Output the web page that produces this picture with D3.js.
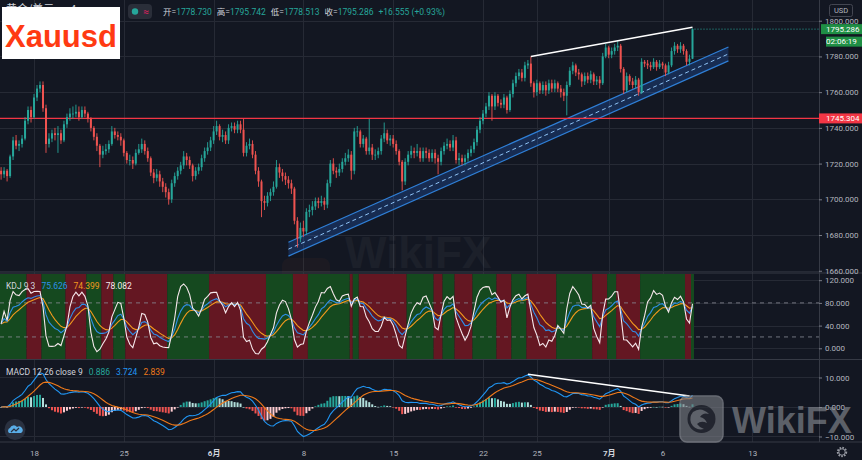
<!DOCTYPE html>
<html>
<head>
<meta charset="utf-8">
<script src="https://cdn.jsdelivr.net/npm/d3@7"></script>
<style>
  html, body { margin: 0; padding: 0; background: #131722; overflow: hidden; }
  svg { display: block; font-family: Roboto, "Noto Sans", "Noto Sans CJK SC", sans-serif; }
</style>
</head>
<body>
<svg id="chart"></svg>
<script>
// XAUUSD, 4h bars, 14 May - 7 Jul 2020 (open of each bar = previous close)
const firstOpen = 1716;
const closes = [
  1714, 1716, 1713, 1724, 1733,
  1730, 1731, 1734, 1744, 1750, 1746,
  1757, 1762, 1764, 1751, 1731, 1734,
  1737, 1736, 1737, 1733, 1742, 1746,
  1748, 1748, 1749, 1746, 1750, 1748,
  1745, 1740, 1735, 1730, 1725, 1727,
  1728, 1731, 1738, 1736, 1735, 1733,
  1726, 1722, 1722, 1720, 1726, 1728,
  1731, 1727, 1723, 1715, 1712, 1714,
  1710, 1707, 1704, 1700, 1709, 1713,
  1716, 1719, 1724, 1722, 1719, 1713,
  1716, 1718, 1723, 1727, 1729, 1733,
  1738, 1741, 1735, 1736, 1733, 1740,
  1741, 1739, 1742, 1739, 1726, 1730,
  1731, 1725, 1716, 1710, 1699, 1698,
  1702, 1704, 1707, 1718, 1715, 1713,
  1711, 1709, 1706, 1688, 1678, 1684,
  1682, 1693, 1694, 1696, 1699, 1698,
  1699, 1697, 1709, 1720, 1716, 1715,
  1717, 1721, 1723, 1725, 1716, 1738,
  1738, 1731, 1734, 1727, 1729, 1725,
  1725, 1727, 1734, 1737, 1733, 1734,
  1731, 1727, 1721, 1710, 1721, 1725,
  1727, 1726, 1727, 1723, 1727, 1726,
  1723, 1726, 1723, 1721, 1727, 1730,
  1731, 1729, 1733, 1722, 1723, 1721,
  1723, 1726, 1728, 1732, 1739, 1744,
  1748, 1752, 1758, 1752, 1758, 1754,
  1753, 1757, 1750, 1759, 1765, 1769,
  1771, 1768, 1775, 1776, 1765, 1760,
  1765, 1761, 1764, 1761, 1765, 1762,
  1765, 1762, 1760, 1758, 1764, 1772,
  1775, 1771, 1770, 1766, 1769, 1767,
  1770, 1766, 1767, 1765, 1780, 1785,
  1781, 1783, 1785, 1786, 1773, 1761,
  1769, 1766, 1764, 1767, 1760, 1777,
  1776, 1775, 1774, 1777, 1774, 1776,
  1775, 1771, 1775, 1783, 1786, 1784,
  1786, 1783, 1777, 1778.73, 1795.286
];
const highs = [
  1718, 1718, 1717, 1725, 1735,
  1736, 1733, 1736, 1746, 1752, 1752,
  1759, 1764, 1766, 1766, 1753, 1737,
  1739, 1740, 1741, 1739, 1744, 1748,
  1751, 1752, 1753, 1752, 1752, 1752,
  1749, 1746, 1741, 1737, 1731, 1730,
  1731, 1733, 1741, 1740, 1738, 1737,
  1734, 1727, 1725, 1724, 1728, 1731,
  1734, 1733, 1729, 1724, 1717, 1717,
  1716, 1712, 1709, 1706, 1711, 1715,
  1718, 1721, 1727, 1726, 1724, 1720,
  1718, 1720, 1725, 1729, 1732, 1735,
  1741, 1744, 1742, 1739, 1738, 1742,
  1743, 1743, 1744, 1744, 1745, 1732,
  1734, 1733, 1727, 1718, 1711, 1702,
  1704, 1706, 1710, 1722, 1720, 1717,
  1715, 1713, 1711, 1707, 1690, 1687,
  1688, 1695, 1697, 1699, 1701, 1701,
  1702, 1701, 1711, 1722, 1723, 1718,
  1720, 1723, 1726, 1728, 1727, 1740,
  1741, 1739, 1736, 1735, 1745, 1731,
  1728, 1729, 1736, 1743, 1739, 1736,
  1736, 1733, 1728, 1722, 1723, 1727,
  1730, 1729, 1731, 1729, 1729, 1729,
  1728, 1728, 1728, 1725, 1729, 1732,
  1734, 1733, 1736, 1735, 1726, 1725,
  1725, 1728, 1730, 1734, 1741, 1746,
  1750, 1754, 1760, 1759, 1760, 1759,
  1756, 1759, 1758, 1761, 1767, 1771,
  1773, 1773, 1777, 1778, 1780, 1766,
  1767, 1766, 1766, 1766, 1767, 1767,
  1767, 1766, 1764, 1762, 1766, 1774,
  1777, 1776, 1773, 1771, 1771, 1771,
  1772, 1771, 1769, 1769, 1782, 1787,
  1786, 1785, 1787, 1789, 1787, 1774,
  1771, 1770, 1768, 1769, 1768, 1779,
  1778, 1778, 1777, 1779, 1778, 1778,
  1777, 1776, 1777, 1785, 1788, 1787,
  1788, 1787, 1784, 1781, 1795.742
];
const lows = [
  1711, 1712, 1710, 1712, 1722,
  1728, 1727, 1729, 1733, 1742, 1743,
  1745, 1755, 1760, 1749, 1726, 1729,
  1732, 1733, 1726, 1731, 1732, 1740,
  1744, 1745, 1746, 1744, 1745, 1746,
  1743, 1738, 1733, 1727, 1718, 1723,
  1725, 1726, 1730, 1734, 1733, 1730,
  1724, 1720, 1719, 1717, 1719, 1725,
  1726, 1725, 1721, 1713, 1709, 1710,
  1707, 1704, 1701, 1697, 1698, 1707,
  1711, 1714, 1717, 1719, 1717, 1710,
  1711, 1714, 1716, 1721, 1725, 1727,
  1731, 1736, 1733, 1732, 1731, 1731,
  1738, 1737, 1737, 1737, 1724, 1724,
  1728, 1723, 1714, 1707, 1690, 1694,
  1696, 1699, 1702, 1706, 1712, 1710,
  1708, 1706, 1703, 1686, 1673, 1676,
  1679, 1680, 1690, 1691, 1694, 1695,
  1696, 1694, 1695, 1707, 1714, 1712,
  1713, 1715, 1719, 1721, 1711, 1714,
  1735, 1729, 1729, 1725, 1725, 1722,
  1722, 1723, 1725, 1732, 1731, 1730,
  1729, 1725, 1719, 1705, 1708, 1719,
  1723, 1723, 1724, 1721, 1721, 1723,
  1721, 1721, 1720, 1714, 1719, 1725,
  1728, 1727, 1727, 1720, 1719, 1719,
  1719, 1721, 1724, 1726, 1730, 1737,
  1742, 1746, 1750, 1744, 1750, 1752,
  1751, 1751, 1748, 1749, 1757, 1763,
  1767, 1766, 1766, 1773, 1763, 1757,
  1758, 1759, 1759, 1758, 1759, 1760,
  1760, 1760, 1757, 1755, 1747, 1763,
  1770, 1769, 1767, 1763, 1764, 1765,
  1765, 1764, 1764, 1762, 1764, 1779,
  1779, 1779, 1781, 1783, 1771, 1759,
  1760, 1764, 1762, 1762, 1758, 1759,
  1774, 1773, 1772, 1773, 1772, 1773,
  1773, 1769, 1770, 1774, 1781, 1782,
  1782, 1781, 1775, 1775, 1778.513
];

// time axis: series starts on the 2nd 4h bar of 14 May, 6 bars per trading day
const firstDay = "2020-05-14";
const barsPerDay = 6;
const skippedBars = 1;
const tickDates = ["2020-05-18", "2020-05-25", "2020-06-01", "2020-06-08", "2020-06-15",
  "2020-06-22", "2020-06-25", "2020-07-01", "2020-07-06", "2020-07-13"];
const tickLabels = ["18", "25", "6月", "8", "15", "22", "25", "7月", "6", "13"];

const priceTicks = [1660, 1680, 1700, 1720, 1740, 1760, 1780, 1800];
const kdjTicks = [0, 40, 80, 120];
const kdjBands = [20, 80];
const macdTicks = [-10, 0, 10];

// KDJ background stripes as seen: [first bar, last bar, 1 = green / 0 = red]
const kdjStripes = [
  [0, 8, 1], [9, 13, 0], [14, 21, 1], [22, 28, 0], [29, 33, 1], [34, 37, 0],
  [38, 41, 1], [42, 55, 0], [56, 69, 1], [70, 88, 0], [89, 97, 1], [98, 102, 0],
  [103, 116, 1], [117, 117, 0], [118, 119, 1], [120, 135, 0], [136, 144, 1],
  [145, 147, 0], [148, 151, 1], [152, 157, 0], [158, 165, 1], [166, 170, 0],
  [171, 175, 1], [176, 185, 0], [186, 197, 1], [198, 202, 0], [203, 205, 1],
  [206, 213, 0], [214, 228, 1], [229, 230, 0], [231, 231, 1]
];

// drawings: [bar, value]
const levelPrice = 1745.304;
const channelTop = [[96, 1676], [243, 1785.3]];
const channelBottom = [[96, 1668.2], [243, 1777.5]];
const priceTrend = [[177, 1780], [231, 1796.3]];
const macdTrend = [[176, 11.1], [230, 3.7]];

const ohlcLabels = ["开", "高", "低", "收"];
const ohlcValues = ["1778.730", "1795.742", "1778.513", "1795.286"];
const changeText = "+16.555 (+0.93%)";
const kdjValues = ["75.626", "74.399", "78.082"];
const macdValues = ["0.886", "3.724", "2.839"];
const lastPriceText = "1795.286";
const countdownText = "02:06:19";

const width = 862, height = 460, plotRight = 819;
const upColor = "#26a69a", downColor = "#ef5350";
const gridColor = "#262a35", axisText = "#b2b5be";

const n = closes.length;
const opens = closes.map((c, i) => i ? closes[i - 1] : firstOpen);
const bars = closes.map((c, i) => ({ i, o: opens[i], h: highs[i], l: lows[i], c }));

// KDJ 9 3
const kdj = [];
bars.forEach((b, i) => {
  const from = Math.max(0, i - 8);
  const hh = d3.max(highs.slice(from, i + 1)), ll = d3.min(lows.slice(from, i + 1));
  const rsv = hh === ll ? 50 : (b.c - ll) / (hh - ll) * 100;
  const k = i ? (2 * kdj[i - 1].k + rsv) / 3 : rsv;
  const d = i ? (2 * kdj[i - 1].d + k) / 3 : k;
  kdj.push({ k, d, j: 3 * k - 2 * d });
});

// MACD 12 26 9
function ema(arr, len) {
  const a = 2 / (len + 1), out = [];
  arr.forEach((v, i) => out.push(i ? a * v + (1 - a) * out[i - 1] : v));
  return out;
}
const ema12 = ema(closes, 12), ema26 = ema(closes, 26);
const macd = closes.map((c, i) => ema12[i] - ema26[i]);
const signal = ema(macd, 9);
const hist = macd.map((m, i) => m - signal[i]);

const parse = d3.utcParse("%Y-%m-%d");
function barOf(dateStr) {
  const days = d3.utcDays(parse(firstDay), parse(dateStr)).filter(d => d.getUTCDay() % 6 !== 0).length;
  return days * barsPerDay - skippedBars;
}
const tickBars = tickDates.map(barOf);

// scales
const x = d3.scaleLinear().domain([0, 231]).range([1.1, 692.5]);
const yMain = d3.scaleLinear().domain([1659.3, 1811.6]).range([272, 0]);
const yKdj = d3.scaleLinear().domain([-18.85, 130.9]).range([359, 274]);
const yMacd = d3.scaleLinear().domain([-11.53, 15.93]).range([441, 360]);

const svg = d3.select("#chart").attr("width", width).attr("height", height);
svg.append("rect").attr("width", width).attr("height", height).attr("fill", "#131722");

const defs = svg.append("defs");
function addClip(id, y0, y1) {
  defs.append("clipPath").attr("id", id).append("rect")
    .attr("x", 0).attr("y", y0).attr("width", plotRight).attr("height", y1 - y0);
}
addClip("clipMain", 0, 272);
addClip("clipKdj", 274, 359);
addClip("clipMacd", 360, 441);

// grid
const grid = svg.append("g").attr("stroke", gridColor).attr("stroke-width", 1);
grid.selectAll(".gv").data(tickBars).join("line")
  .attr("x1", d => Math.round(x(d)) + 0.5).attr("x2", d => Math.round(x(d)) + 0.5)
  .attr("y1", 0).attr("y2", 442);
grid.selectAll(".gp").data(priceTicks).join("line")
  .attr("x1", 0).attr("x2", plotRight)
  .attr("y1", d => Math.round(yMain(d)) + 0.5).attr("y2", d => Math.round(yMain(d)) + 0.5);
grid.selectAll(".gk").data(kdjTicks).join("line")
  .attr("x1", 0).attr("x2", plotRight)
  .attr("y1", d => Math.round(yKdj(d)) + 0.5).attr("y2", d => Math.round(yKdj(d)) + 0.5);
grid.selectAll(".gm").data(macdTicks).join("line")
  .attr("x1", 0).attr("x2", plotRight)
  .attr("y1", d => Math.round(yMacd(d)) + 0.5).attr("y2", d => Math.round(yMacd(d)) + 0.5);

// faint watermark behind everything
const wm = svg.append("g").attr("opacity", 0.035);
wm.append("rect").attr("x", 282).attr("y", 258).attr("width", 48).attr("height", 56).attr("rx", 8)
  .attr("fill", "#ff7a2a");
wm.append("text").attr("x", 345).attr("y", 268).attr("font-size", 44).attr("font-weight", "bold")
  .attr("font-family", "'Liberation Sans', Arial, sans-serif").attr("fill", "#ffffff").text("WikiFX");

// KDJ background
svg.append("g").attr("clip-path", "url(#clipKdj)")
  .selectAll("rect").data(kdjStripes).join("rect")
  .attr("x", d => x(d[0]) - 1.5).attr("width", d => x(d[1]) - x(d[0]) + 3)
  .attr("y", 274).attr("height", 85)
  .attr("fill", d => d[2] ? "#15491f" : "#641722");

// main pane
const main = svg.append("g").attr("clip-path", "url(#clipMain)");

// parallel channel
const chPoly = channelTop.concat(channelBottom.slice().reverse());
main.append("path")
  .attr("d", d3.line().x(d => x(d[0])).y(d => yMain(d[1]))(chPoly) + "Z")
  .attr("fill", "rgba(41,121,255,0.22)").attr("stroke", "none");
[channelTop, channelBottom].forEach(seg => {
  main.append("path").attr("d", d3.line().x(d => x(d[0])).y(d => yMain(d[1]))(seg))
    .attr("stroke", "#2f7fd6").attr("stroke-width", 1.2).attr("fill", "none");
});
const chMid = channelTop.map((p, k) => [p[0], (p[1] + channelBottom[k][1]) / 2]);
main.append("path").attr("d", d3.line().x(d => x(d[0])).y(d => yMain(d[1]))(chMid))
  .attr("stroke", "#8fc3f5").attr("stroke-width", 1).attr("stroke-dasharray", "4,3").attr("fill", "none");

// horizontal level
main.append("line").attr("x1", 0).attr("x2", plotRight)
  .attr("y1", yMain(levelPrice)).attr("y2", yMain(levelPrice))
  .attr("stroke", "#f23645").attr("stroke-width", 1.4);

// candles
const candle = main.append("g").selectAll("g").data(bars).join("g")
  .attr("fill", d => d.c >= d.o ? upColor : downColor)
  .attr("stroke", d => d.c >= d.o ? upColor : downColor);
candle.append("line")
  .attr("x1", d => x(d.i)).attr("x2", d => x(d.i))
  .attr("y1", d => yMain(d.h)).attr("y2", d => yMain(d.l)).attr("stroke-width", 0.9);
candle.append("rect")
  .attr("x", d => x(d.i) - 1).attr("width", 2)
  .attr("y", d => yMain(Math.max(d.o, d.c)))
  .attr("height", d => Math.max(0.8, Math.abs(yMain(d.o) - yMain(d.c))))
  .attr("stroke", "none");

// last price dotted line
main.append("line").attr("x1", x(n - 1) + 2).attr("x2", plotRight)
  .attr("y1", yMain(closes[n - 1])).attr("y2", yMain(closes[n - 1]))
  .attr("stroke", upColor).attr("stroke-width", 1).attr("stroke-dasharray", "1,2");

// trend line on highs
main.append("path").attr("d", d3.line().x(d => x(d[0])).y(d => yMain(d[1]))(priceTrend))
  .attr("stroke", "#ffffff").attr("stroke-width", 1.5).attr("fill", "none");

// KDJ
const kg = svg.append("g").attr("clip-path", "url(#clipKdj)");
kg.selectAll(".band").data(kdjBands).join("line")
  .attr("x1", 0).attr("x2", plotRight)
  .attr("y1", d => yKdj(d)).attr("y2", d => yKdj(d))
  .attr("stroke", "#8a8d96").attr("stroke-width", 1).attr("stroke-dasharray", "4,4").attr("opacity", 0.8);
[["d", "#f39a1e"], ["k", "#2f8fe8"], ["j", "#f6e8ec"]].forEach(([key, col]) => {
  kg.append("path").datum(kdj)
    .attr("d", d3.line().x((d, i) => x(i)).y(d => yKdj(d[key])))
    .attr("stroke", col).attr("stroke-width", 1.1).attr("fill", "none");
});

// MACD
const mg = svg.append("g").attr("clip-path", "url(#clipMacd)");
mg.selectAll("rect").data(hist).join("rect")
  .attr("x", (d, i) => x(i) - 1).attr("width", 2)
  .attr("y", d => Math.min(yMacd(0), yMacd(d)))
  .attr("height", d => Math.max(0.6, Math.abs(yMacd(d) - yMacd(0))))
  .attr("fill", (d, i) => {
    const prev = i ? hist[i - 1] : d;
    if (d >= 0) return prev < d ? "#26a69a" : "#b2dfdb";
    return prev < d ? "#ffcdd2" : "#ef5350";
  });
mg.append("path").datum(macd)
  .attr("d", d3.line().x((d, i) => x(i)).y(d => yMacd(d)))
  .attr("stroke", "#2196f3").attr("stroke-width", 1.1).attr("fill", "none");
mg.append("path").datum(signal)
  .attr("d", d3.line().x((d, i) => x(i)).y(d => yMacd(d)))
  .attr("stroke", "#f07a1a").attr("stroke-width", 1.1).attr("fill", "none");
mg.append("path").attr("d", d3.line().x(d => x(d[0])).y(d => yMacd(d[1]))(macdTrend))
  .attr("stroke", "#ffffff").attr("stroke-width", 1.5).attr("fill", "none");

// pane separators and scale border
const sep = svg.append("g").attr("stroke", "#363a45").attr("stroke-width", 1);
[273, 359.5, 442].forEach(yy => sep.append("line").attr("x1", 0).attr("x2", width).attr("y1", yy).attr("y2", yy));
sep.append("line").attr("x1", plotRight + 0.5).attr("x2", plotRight + 0.5).attr("y1", 0).attr("y2", 442);

// axes
function styleAxis(g) {
  g.select(".domain").remove();
  g.selectAll(".tick line").attr("stroke", "#787b86");
  g.selectAll(".tick text").attr("fill", axisText).attr("font-size", 8)
    .attr("font-family", "Roboto, 'Noto Sans', sans-serif");
}
svg.append("g").attr("transform", `translate(${plotRight},0)`)
  .call(d3.axisRight(yMain).tickValues(priceTicks).tickSize(3).tickPadding(3).tickFormat(d3.format(".3f")))
  .call(styleAxis);
svg.append("g").attr("transform", `translate(${plotRight},0)`)
  .call(d3.axisRight(yKdj).tickValues(kdjTicks).tickSize(3).tickPadding(3).tickFormat(d3.format(".3f")))
  .call(styleAxis);
svg.append("g").attr("transform", `translate(${plotRight},0)`)
  .call(d3.axisRight(yMacd).tickValues(macdTicks).tickSize(3).tickPadding(3).tickFormat(d3.format(".3f")))
  .call(styleAxis);
const xAxis = svg.append("g").attr("transform", "translate(0,442)")
  .call(d3.axisBottom(x).tickValues(tickBars).tickSize(0).tickPadding(8).tickFormat((d, i) => tickLabels[i]))
  .call(styleAxis);
xAxis.selectAll(".tick text")
  .attr("font-weight", (d, i) => tickLabels[i].includes("月") ? "bold" : null)
  .attr("fill", (d, i) => tickLabels[i].includes("月") ? "#d1d4dc" : axisText)
  .attr("font-family", "Roboto, 'Noto Sans CJK SC', sans-serif");

// axis price labels
function priceTag(y0, h, x0, fill, text) {
  svg.append("rect").attr("x", x0).attr("y", y0).attr("width", width - x0).attr("height", h).attr("fill", fill);
  svg.append("text").attr("x", 826).attr("y", y0 + h / 2).attr("dy", "0.35em")
    .attr("font-size", 8).attr("fill", "#ffffff").text(text);
}
priceTag(yMain(levelPrice) - 5, 10, plotRight, "#f23645", d3.format(".3f")(levelPrice));
priceTag(yMain(closes[n - 1]) - 5, 10, plotRight + 2, "#1f8f45", lastPriceText);
priceTag(yMain(closes[n - 1]) + 7.5, 10, 826, "#1f8f45", countdownText);

// USD unit box
svg.append("rect").attr("x", 829.5).attr("y", 4.5).attr("width", 23).attr("height", 12).attr("rx", 2)
  .attr("fill", "#131722").attr("stroke", "#434651");
svg.append("text").attr("x", 841).attr("y", 10.5).attr("dy", "0.35em").attr("text-anchor", "middle")
  .attr("font-size", 7.5).attr("fill", axisText).text("USD");

// header
svg.append("text").attr("x", 6).attr("y", 13).attr("font-size", 11)
  .attr("font-family", "'Noto Sans CJK SC', sans-serif").attr("fill", "#d1d4dc").text("黄金/美元 · 4");
svg.append("rect").attr("x", 128).attr("y", 4).attr("width", 24).attr("height", 15).attr("rx", 4).attr("fill", "#2a2e39");
svg.append("circle").attr("cx", 135).attr("cy", 11.5).attr("r", 3.2).attr("fill", upColor);
svg.append("text").attr("x", 146).attr("y", 11.5).attr("dy", "0.35em").attr("text-anchor", "middle")
  .attr("font-size", 10).attr("fill", "#e91e63").text("≈");
const head = svg.append("text").attr("x", 163).attr("y", 14.5).attr("font-size", 8.5)
  .attr("font-family", "Roboto, 'Noto Sans CJK SC', sans-serif");
ohlcLabels.forEach((lab, k) => {
  head.append("tspan").attr("dx", k ? 5 : 0).attr("fill", "#d1d4dc").text(lab + "=");
  head.append("tspan").attr("fill", upColor).text(ohlcValues[k]);
});
head.append("tspan").attr("dx", 5).attr("fill", upColor).text(changeText);

// logo box
svg.append("rect").attr("x", 2).attr("y", 7).attr("width", 118).attr("height", 52).attr("fill", "#ffffff");
svg.append("text").attr("x", 5).attr("y", 47).attr("font-size", 31).attr("font-weight", "bold")
  .attr("font-family", "'Liberation Sans', Arial, sans-serif").attr("fill", "#ff3a12").text("Xauusd");

// indicator legends
const kl = svg.append("text").attr("x", 6).attr("y", 288.5).attr("font-size", 8.5);
kl.append("tspan").attr("fill", "#d1d4dc").text("KDJ 9 3");
["#2f8fe8", "#f39a1e", "#f6e8ec"].forEach((c, k) => kl.append("tspan").attr("dx", 6).attr("fill", c).text(kdjValues[k]));
const ml = svg.append("text").attr("x", 6).attr("y", 374.5).attr("font-size", 8.5);
ml.append("tspan").attr("fill", "#d1d4dc").text("MACD 12 26 close 9");
[upColor, "#2196f3", "#f07a1a"].forEach((c, k) => ml.append("tspan").attr("dx", 6).attr("fill", c).text(macdValues[k]));

// small icon bottom-left
svg.append("circle").attr("cx", 15).attr("cy", 429.5).attr("r", 10.5).attr("fill", "#2a3140");
svg.append("path").attr("transform", "translate(15,430)")
  .attr("d", "M-6,3 a3,3 0 0,1 1,-5 a4,4 0 0,1 7,-1 a3,3 0 0,1 4,6 z")
  .attr("fill", "#5aaee8");
svg.append("path").attr("transform", "translate(15,430)")
  .attr("d", "M-4,2 L-1,-1 L1,1 L4,-2").attr("stroke", "#2a3140").attr("stroke-width", 1.2).attr("fill", "none");

// settings gear
svg.append("circle").attr("cx", 842).attr("cy", 452).attr("r", 4.2).attr("fill", "none")
  .attr("stroke", "#9598a1").attr("stroke-width", 2).attr("stroke-dasharray", "1.6,1.2");
svg.append("circle").attr("cx", 842).attr("cy", 452).attr("r", 3.2).attr("fill", "none")
  .attr("stroke", "#9598a1").attr("stroke-width", 0.9);

// WikiFX watermark (sits over the lower scale labels, as in the screenshot)
const wf = svg.append("g").attr("opacity", 0.62);
wf.append("rect").attr("x", 680).attr("y", 396).attr("width", 43).attr("height", 46).attr("rx", 7)
  .attr("fill", "#7a7d84").attr("stroke", "#9a9da4").attr("stroke-width", 1.5);
wf.append("circle").attr("cx", 701.5).attr("cy", 419).attr("r", 14).attr("fill", "#2c2f37");
wf.append("path").attr("d", "M693,412 q8,-6 16,2 q-6,-2 -9,3 q5,1 7,6 q-6,-3 -10,1 q3,4 7,5 q-9,2 -13,-6 q-2,-6 2,-11 z")
  .attr("fill", "#8d9097");
wf.append("text").attr("x", 732).attr("y", 433).attr("font-size", 36).attr("font-weight", "bold")
  .attr("font-family", "'Liberation Sans', Arial, sans-serif").attr("fill", "#8a8d94").text("WikiFX");
</script>
</body>
</html>
